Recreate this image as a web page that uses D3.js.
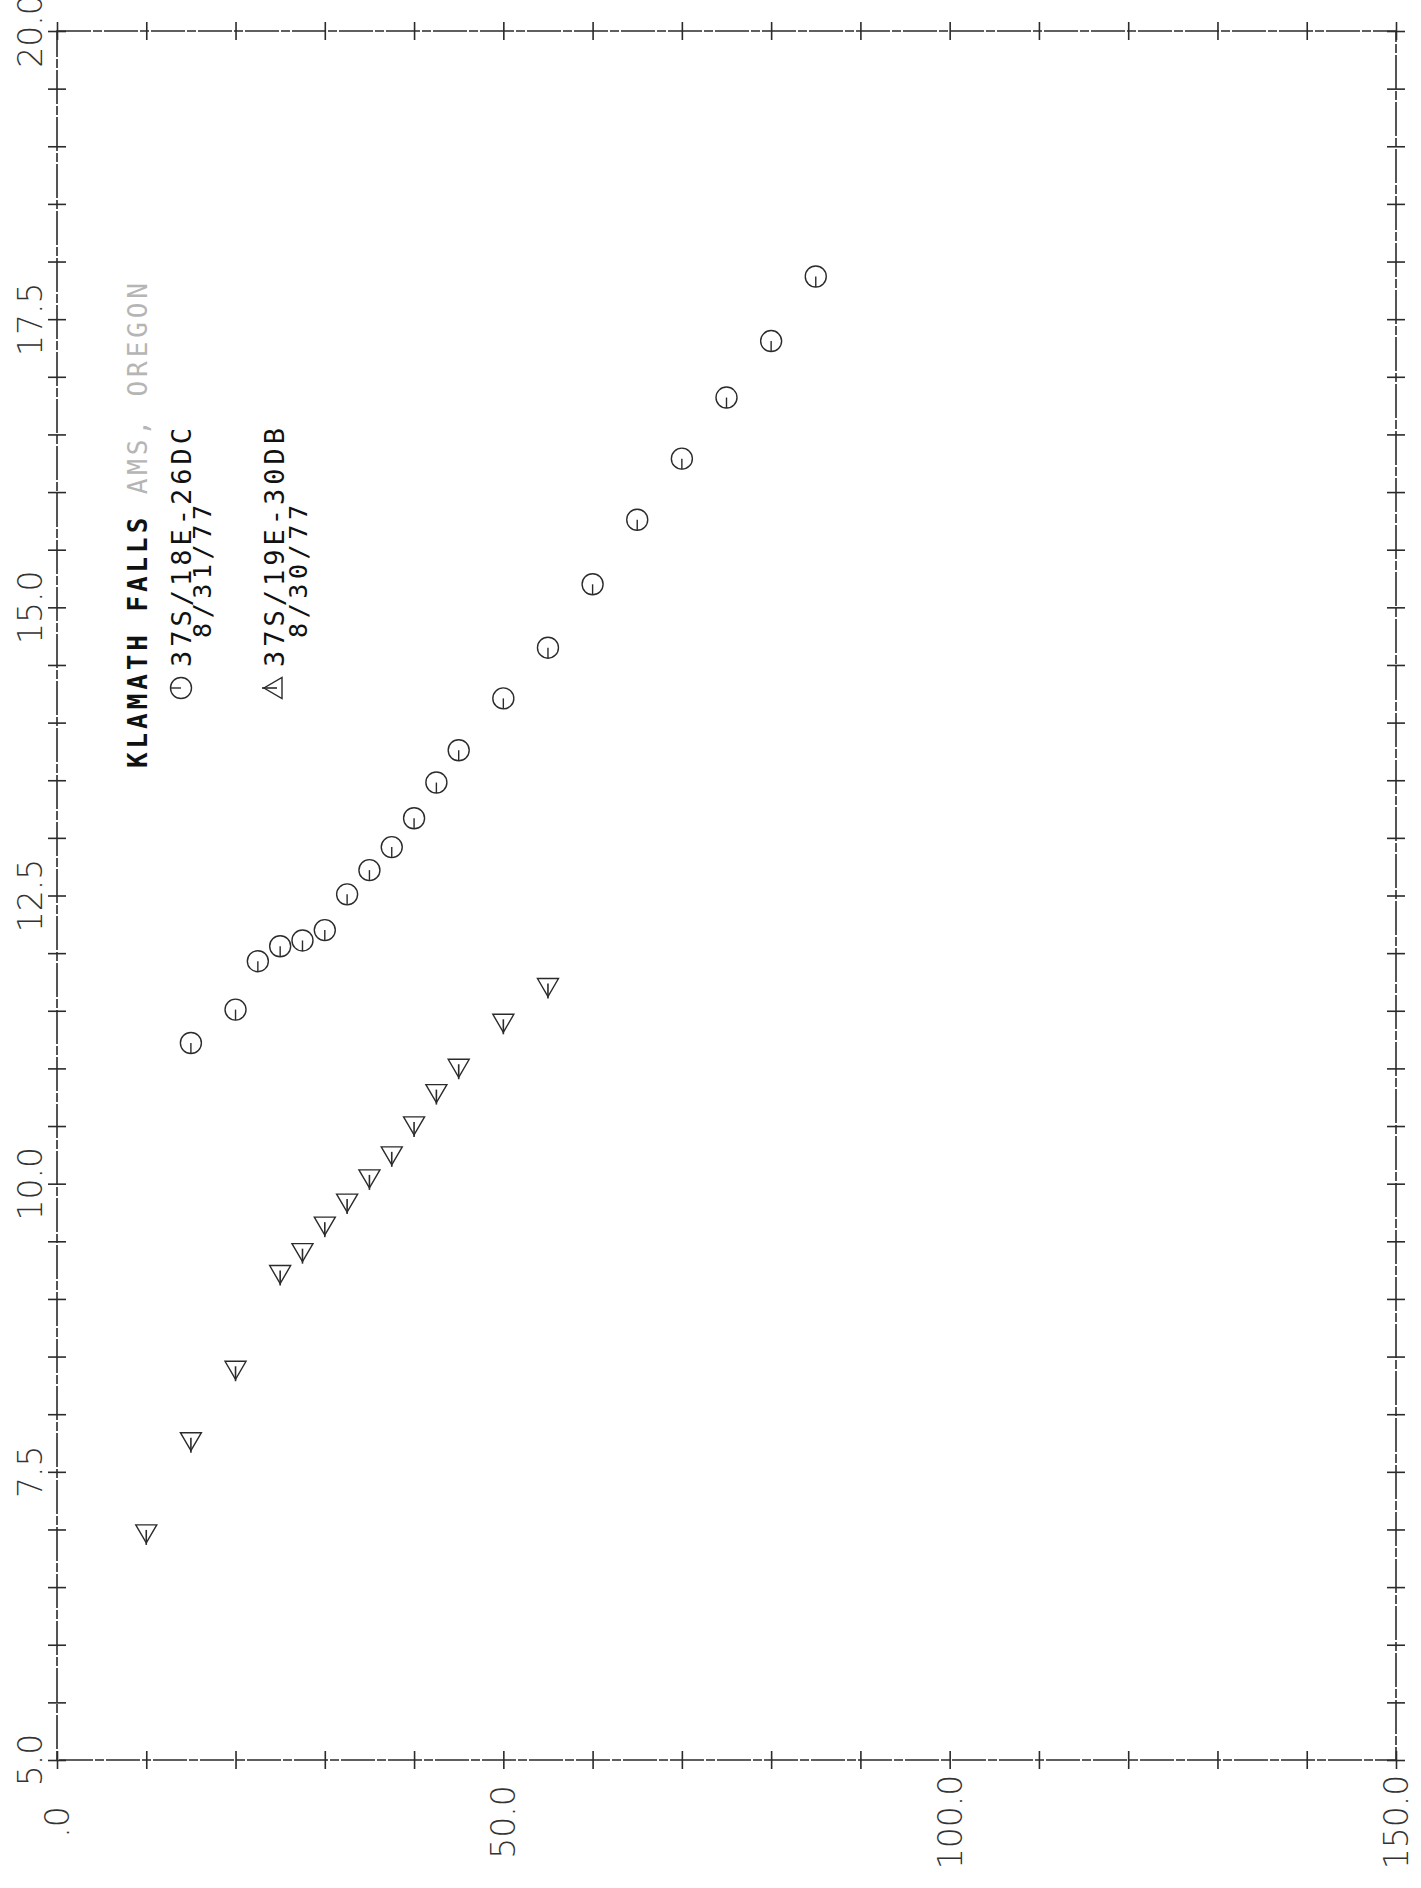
<!DOCTYPE html>
<html>
<head>
<meta charset="utf-8">
<script src="https://cdn.jsdelivr.net/npm/d3@7"></script>
<style>
  body { margin: 0; background: #fff; }
  svg { display: block; }
</style>
</head>
<body>
<svg id="chart" width="1421" height="1888"></svg>
<script>
// depth (x) vs temperature (y), two wells
var circleDepth = [15, 20, 22.5, 25, 27.5, 30, 32.5, 35, 37.5, 40, 42.5, 45, 50, 55, 60, 65, 70, 75, 80, 85];
var circleTemp  = [11.22, 11.51, 11.93, 12.06, 12.11, 12.20, 12.51, 12.72, 12.92, 13.17, 13.48, 13.76, 14.21, 14.65, 15.20, 15.76, 16.29, 16.82, 17.31, 17.87];

var triDepth = [10, 15, 20, 25, 27.5, 30, 32.5, 35, 37.5, 40, 42.5, 45, 50, 55];
var triTemp  = [6.97, 7.77, 8.39, 9.22, 9.41, 9.64, 9.84, 10.05, 10.25, 10.51, 10.79, 11.01, 11.40, 11.71];

var xTicks = d3.range(0, 151, 10);
var xLabels = [0, 50, 100, 150];
var yTicks = d3.range(5, 20.01, 0.5);
var yLabels = [5, 7.5, 10, 12.5, 15, 17.5, 20];

var titleMain = "KLAMATH FALLS";
var titleRest = " AMS, OREGON";
var legendWell = ["37S/18E-26DC", "37S/19E-30DB"];
var legendDate = ["8/31/77", "8/30/77"];

var svg = d3.select("#chart");
var plotLeft = 57, plotRight = 1396, plotTop = 31, plotBottom = 1760;

var x = d3.scaleLinear().domain([0, 150]).range([plotLeft, plotRight]);
var y = d3.scaleLinear().domain([5, 20]).range([plotBottom, plotTop]);

var ink = "#2b2b2b";
var dash = "34,2,9,2";

svg.append("rect").attr("width", 1421).attr("height", 1888).attr("fill", "#fff");

// frame
svg.append("rect")
  .attr("x", plotLeft).attr("y", plotTop)
  .attr("width", plotRight - plotLeft).attr("height", plotBottom - plotTop)
  .attr("fill", "none").attr("stroke", ink)
  .attr("stroke-width", 1.6).attr("stroke-dasharray", dash);

// crossing ticks on all four sides
function noDomain(g) { g.select(".domain").remove(); }
var tickLen = 18;
svg.append("g").attr("transform", "translate(0," + (plotBottom - tickLen / 2) + ")")
  .call(d3.axisBottom(x).tickValues(xTicks).tickSize(tickLen).tickFormat(""))
  .call(noDomain);
svg.append("g").attr("transform", "translate(0," + (plotTop - tickLen / 2) + ")")
  .call(d3.axisBottom(x).tickValues(xTicks).tickSize(tickLen).tickFormat(""))
  .call(noDomain);
svg.append("g").attr("transform", "translate(" + (plotLeft - tickLen / 2) + ",0)")
  .call(d3.axisRight(y).tickValues(yTicks).tickSize(tickLen).tickFormat(""))
  .call(noDomain);
svg.append("g").attr("transform", "translate(" + (plotRight - tickLen / 2) + ",0)")
  .call(d3.axisRight(y).tickValues(yTicks).tickSize(tickLen).tickFormat(""))
  .call(noDomain);
svg.selectAll(".tick line").attr("stroke", ink).attr("stroke-width", 1.6);

// tick labels (rotated, plotter style)
var fmt = d3.format(".1f");
svg.selectAll(".ylab")
  .data(yLabels)
  .enter().append("text")
  .attr("class", "ylab")
  .attr("transform", function(d) { return "translate(42," + y(d) + ") rotate(-90)"; })
  .attr("text-anchor", "middle")
  .attr("font-family", "DejaVu Sans, sans-serif")
  .attr("font-weight", 200)
  .attr("font-size", "33px")
  .attr("fill", "#333")
  .text(function(d) { return fmt(d); });

svg.selectAll(".xlab")
  .data(xLabels)
  .enter().append("text")
  .attr("class", "xlab")
  .attr("transform", function(d) { return "translate(" + (x(d) + 12) + ",1822) rotate(-90)"; })
  .attr("text-anchor", "middle")
  .attr("font-family", "DejaVu Sans, sans-serif")
  .attr("font-weight", 200)
  .attr("font-size", "33px")
  .attr("fill", "#333")
  .text(function(d) { return fmt(d).replace(/^0\./, "."); });

// markers
function circleMark(sel) {
  sel.append("circle").attr("r", 10.5)
    .attr("fill", "none").attr("stroke", ink).attr("stroke-width", 1.4);
  sel.append("line").attr("x1", 0).attr("y1", 0).attr("x2", 0).attr("y2", 10.5)
    .attr("stroke", ink).attr("stroke-width", 1.4);
}
function triMark(sel) {
  sel.append("path").attr("d", "M-10.5,-8L10.5,-8L0,10Z")
    .attr("fill", "none").attr("stroke", ink).attr("stroke-width", 1.4);
  sel.append("line").attr("x1", 0).attr("y1", -3).attr("x2", 0).attr("y2", 12)
    .attr("stroke", ink).attr("stroke-width", 1.6);
}

var circles = svg.selectAll(".cpt")
  .data(d3.zip(circleDepth, circleTemp))
  .enter().append("g")
  .attr("class", "cpt")
  .attr("transform", function(d) { return "translate(" + x(d[0]) + "," + y(d[1]) + ")"; });
circleMark(circles);

var tris = svg.selectAll(".tpt")
  .data(d3.zip(triDepth, triTemp))
  .enter().append("g")
  .attr("class", "tpt")
  .attr("transform", function(d) { return "translate(" + x(d[0]) + "," + y(d[1]) + ")"; });
triMark(tris);

// title and legend, written sideways
var title = svg.append("text")
  .attr("transform", "translate(147,768) rotate(-90)")
  .attr("font-family", "DejaVu Sans Mono, monospace")
  .attr("font-size", "26px")
  .attr("letter-spacing", "3.9px");
title.append("tspan").attr("fill", "#111").attr("font-weight", "bold").text(titleMain);
title.append("tspan").attr("fill", "#b5b5b5").text(titleRest);

var legendX = [191, 284];
var dateX = [211, 307];
var markFns = [circleMark, triMark];
legendWell.forEach(function(w, i) {
  var m = svg.append("g")
    .attr("transform", "translate(" + (legendX[i] - 10) + ",688) rotate(90)");
  markFns[i](m);
  svg.append("text")
    .attr("transform", "translate(" + legendX[i] + ",667) rotate(-90)")
    .attr("font-family", "DejaVu Sans Mono, monospace")
    .attr("font-size", "27px")
    .attr("letter-spacing", "4px")
    .attr("fill", "#111")
    .text(w);
  svg.append("text")
    .attr("transform", "translate(" + dateX[i] + ",638) rotate(-90)")
    .attr("font-family", "DejaVu Sans Mono, monospace")
    .attr("font-size", "25px")
    .attr("letter-spacing", "4.6px")
    .attr("fill", "#111")
    .text(legendDate[i]);
});
</script>
</body>
</html>
